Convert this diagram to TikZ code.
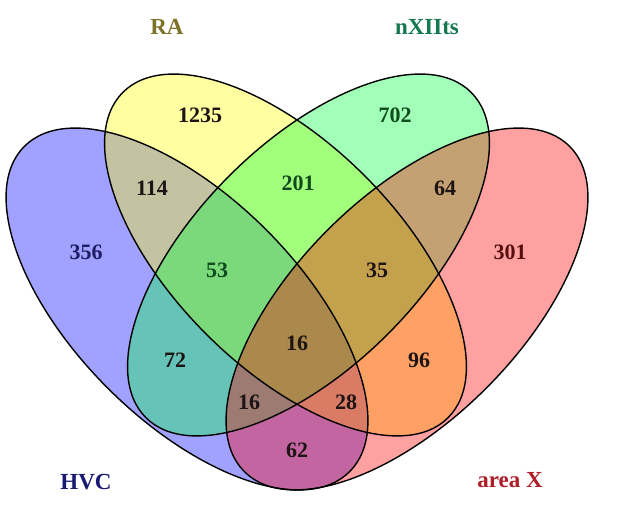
\documentclass[tikz,border=0pt]{standalone}
\usepackage{fontspec}
\setmainfont{Liberation Serif}
\begin{document}
\begin{tikzpicture}[x=1pt,y=1pt,
  setfill/.style={fill opacity=0.37},
  setline/.style={draw=black,line width=1.4pt},
  num/.style={font=\fontsize{22}{22}\selectfont\bfseries,inner sep=0pt,text=numdark},
  setname/.style={font=\fontsize{23}{23}\selectfont\bfseries,inner sep=0pt}]
\definecolor{hvcfill}{RGB}{0,0,255}
\definecolor{rafill}{RGB}{255,255,0}
\definecolor{nxfill}{RGB}{0,255,60}
\definecolor{axfill}{RGB}{255,0,0}
\definecolor{numdark}{RGB}{30,20,20}
\definecolor{hvctext}{RGB}{25,25,115}
\definecolor{ratext}{RGB}{125,115,40}
\definecolor{nxtext}{RGB}{20,120,80}
\definecolor{axtext}{RGB}{175,30,40}
\definecolor{greennum}{RGB}{15,75,30}
\definecolor{rednum}{RGB}{85,15,15}
\definecolor{bluenum}{RGB}{30,30,100}
\useasboundingbox (0,0) rectangle (640,525);
\fill[white] (0,0) rectangle (640,525);
% fills
\fill[hvcfill,setfill,rotate around={-45:(187,216)}] (187,216) ellipse [x radius=230pt,y radius=112pt];
\fill[rafill,setfill,rotate around={-45:(285.5,270)}] (285.5,270) ellipse [x radius=230pt,y radius=112pt];
\fill[nxfill,setfill,rotate around={45:(308.5,270)}] (308.5,270) ellipse [x radius=230pt,y radius=112pt];
\fill[axfill,setfill,rotate around={45:(407,216)}] (407,216) ellipse [x radius=230pt,y radius=112pt];
% outlines
\draw[setline,rotate around={-45:(187,216)}] (187,216) ellipse [x radius=230pt,y radius=112pt];
\draw[setline,rotate around={-45:(285.5,270)}] (285.5,270) ellipse [x radius=230pt,y radius=112pt];
\draw[setline,rotate around={45:(308.5,270)}] (308.5,270) ellipse [x radius=230pt,y radius=112pt];
\draw[setline,rotate around={45:(407,216)}] (407,216) ellipse [x radius=230pt,y radius=112pt];
% set names
\node[setname,text=ratext] (lRA) at (167,498) {RA};
\node[setname,text=nxtext] (lNX) at (427,498) {nXIIts};
\node[setname,text=hvctext] (lHVC) at (86,43) {HVC};
\node[setname,text=axtext] (lAX) at (510,45) {area X};
% counts
\node[num] (n1235) at (200,410) {1235};
\node[num,text=greennum] (n702) at (395,410) {702};
\node[num] (n114) at (152,337) {114};
\node[num,text=greennum] (n201) at (298,342) {201};
\node[num] (n64) at (445,337) {64};
\node[num,text=bluenum] (n356) at (86,273) {356};
\node[num,text=greennum] (n53) at (217,255) {53};
\node[num] (n35) at (377,255) {35};
\node[num,text=rednum] (n301) at (510,273) {301};
\node[num] (n16c) at (297,182) {16};
\node[num] (n72) at (175,165) {72};
\node[num] (n96) at (419,165) {96};
\node[num] (n16l) at (249,123) {16};
\node[num] (n28) at (346,123) {28};
\node[num] (n62) at (297,75) {62};
\end{tikzpicture}
\end{document}
